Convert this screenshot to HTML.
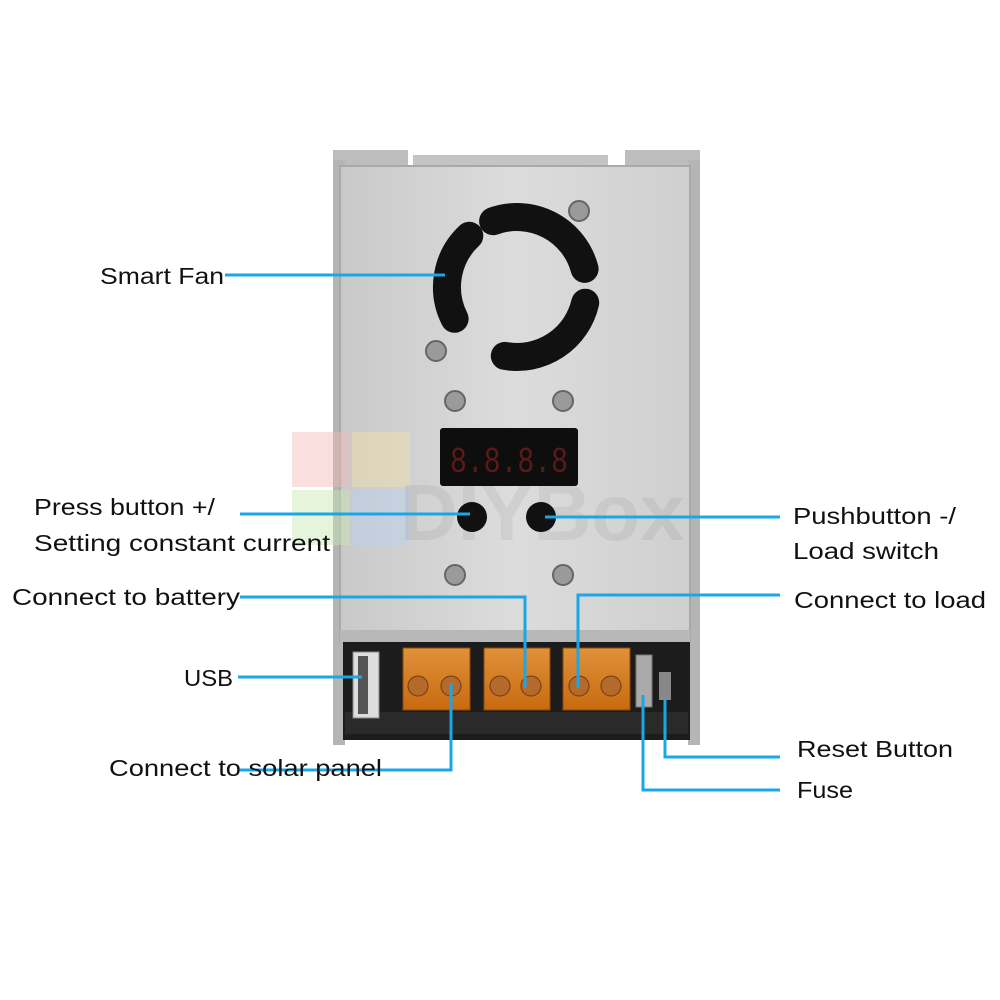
<!DOCTYPE html>
<html><head><style>
body{margin:0;background:#fff;}
svg{display:block;}
text{font-family:"Liberation Sans",sans-serif;font-size:23px;fill:#111;}
</style></head><body>
<svg width="1000" height="1000" viewBox="0 0 1000 1000" xmlns="http://www.w3.org/2000/svg">
<defs>
<linearGradient id="met" x1="0" x2="1">
<stop offset="0" stop-color="#c9c9c9"/><stop offset="0.5" stop-color="#dcdcdc"/><stop offset="1" stop-color="#cfcfcf"/>
</linearGradient>
<linearGradient id="org" x1="0" y1="0" x2="0" y2="1">
<stop offset="0" stop-color="#e0913a"/><stop offset="1" stop-color="#c86a10"/>
</linearGradient>
</defs>
<rect x="333" y="150" width="75" height="30" fill="#bdbdbd"/>
<rect x="413" y="155" width="195" height="25" fill="#c4c4c4"/>
<rect x="625" y="150" width="75" height="30" fill="#bdbdbd"/>
<rect x="333" y="160" width="12" height="585" fill="#b5b5b5"/>
<rect x="688" y="160" width="12" height="585" fill="#b5b5b5"/>
<rect x="343" y="640" width="347" height="100" fill="#1c1c1c"/>
<rect x="345" y="712" width="343" height="22" fill="#2a2a2a"/>
<rect x="340" y="166" width="350" height="475" fill="url(#met)" stroke="#a9a9a9" stroke-width="2"/>
<rect x="340" y="630" width="350" height="12" fill="#b8b8b8"/>
<g fill="none" stroke="#111" stroke-width="28" stroke-linecap="round">
<path d="M469.3 235.8 A70 70 0 0 0 454.6 318.8"/>
<path d="M493.1 221.2 A70 70 0 0 1 584.6 268.9"/>
<path d="M585.2 302.7 A70 70 0 0 1 504.8 355.9"/>
</g>
<g fill="#9a9a9a" stroke="#666" stroke-width="2">
<circle cx="579" cy="211" r="10"/><circle cx="436" cy="351" r="10"/>
<circle cx="455" cy="401" r="10"/><circle cx="563" cy="401" r="10"/>
<circle cx="455" cy="575" r="10"/><circle cx="563" cy="575" r="10"/>
</g>
<rect x="440" y="428" width="138" height="58" rx="3" fill="#0e0e0e"/>
<text x="450" y="472" textLength="118" lengthAdjust="spacingAndGlyphs" style="font-size:36px;fill:#5a1a1a;font-family:'Liberation Mono',monospace">8.8.8.8</text>
<rect x="292" y="432" width="58" height="55" fill="#f3b8b8" opacity="0.45"/>
<rect x="352" y="432" width="58" height="55" fill="#f5e2a8" opacity="0.45"/>
<rect x="292" y="490" width="58" height="55" fill="#c8e6b0" opacity="0.45"/>
<rect x="352" y="490" width="58" height="55" fill="#b8d2f0" opacity="0.45"/>
<text x="400" y="540" style="font-size:80px;font-weight:bold;fill:#000;opacity:0.05">DIYBox</text>
<circle cx="472" cy="517" r="15" fill="#111"/>
<circle cx="541" cy="517" r="15" fill="#111"/>
<rect x="353" y="652" width="26" height="66" fill="#ddd" stroke="#888"/>
<rect x="358" y="656" width="10" height="58" fill="#555"/>
<g fill="url(#org)" stroke="#8a4a0a">
<rect x="403" y="648" width="67" height="62"/>
<rect x="484" y="648" width="66" height="62"/>
<rect x="563" y="648" width="67" height="62"/>
</g>
<g fill="#b46a2a" stroke="#6e3a10">
<circle cx="418" cy="686" r="10"/><circle cx="451" cy="686" r="10"/>
<circle cx="500" cy="686" r="10"/><circle cx="531" cy="686" r="10"/>
<circle cx="579" cy="686" r="10"/><circle cx="611" cy="686" r="10"/>
</g>
<rect x="636" y="655" width="16" height="52" fill="#aaa" stroke="#777"/>
<rect x="659" y="672" width="12" height="28" fill="#888"/>
<g fill="none" stroke="#1aa7e8" stroke-width="3">
<path d="M225 275H445"/>
<path d="M240 514H470"/>
<path d="M545 517H780"/>
<path d="M240 597H525V688"/>
<path d="M780 595H578V688"/>
<path d="M238 677H362"/>
<path d="M451 683V770H240"/>
<path d="M643 695V790H780"/>
<path d="M665 700V757H780"/>
</g>
<g style="font-size:24px">
<text x="100" y="284" textLength="124" lengthAdjust="spacingAndGlyphs">Smart Fan</text>
<text x="34" y="515" textLength="181" lengthAdjust="spacingAndGlyphs">Press button +/</text>
<text x="34" y="551" textLength="296" lengthAdjust="spacingAndGlyphs">Setting constant current</text>
<text x="12" y="605" textLength="228" lengthAdjust="spacingAndGlyphs">Connect to battery</text>
<text x="184" y="686" textLength="49" lengthAdjust="spacingAndGlyphs">USB</text>
<text x="109" y="776" textLength="273" lengthAdjust="spacingAndGlyphs">Connect to solar panel</text>
<text x="793" y="524" textLength="163" lengthAdjust="spacingAndGlyphs">Pushbutton -/</text>
<text x="793" y="559" textLength="146" lengthAdjust="spacingAndGlyphs">Load switch</text>
<text x="794" y="608" textLength="192" lengthAdjust="spacingAndGlyphs">Connect to load</text>
<text x="797" y="757" textLength="156" lengthAdjust="spacingAndGlyphs">Reset Button</text>
<text x="797" y="798" textLength="56" lengthAdjust="spacingAndGlyphs">Fuse</text>
</g>
</svg>
</body></html>
